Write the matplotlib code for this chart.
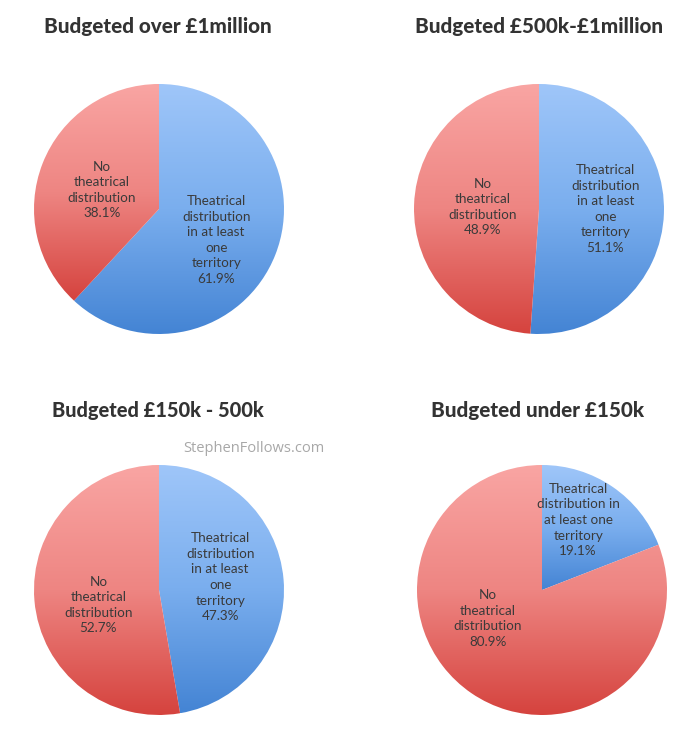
import numpy as np
import matplotlib
matplotlib.use("Agg")
import matplotlib.pyplot as plt
from matplotlib.colors import LinearSegmentedColormap

titles = ["Budgeted over £1million", "Budgeted £500k-£1million",
          "Budgeted £150k - 500k", "Budgeted under £150k"]
theatrical_pct = [61.9, 51.1, 47.3, 19.1]
none_pct = [38.1, 48.9, 52.7, 80.9]
theatrical_labels = ["Theatrical\ndistribution\nin at least\none\nterritory",
                     "Theatrical\ndistribution\nin at least\none\nterritory",
                     "Theatrical\ndistribution\nin at least\none\nterritory",
                     "Theatrical\ndistribution in\nat least one\nterritory"]
none_label = "No\ntheatrical\ndistribution"
watermark = "StephenFollows.com"

W, H = 700, 743
fig = plt.figure(figsize=(W / 100, H / 100), dpi=100)
fig.patch.set_facecolor("white")

centers = [(159, 209), (539, 209), (159, 590), (542, 590)]
R = 125
title_y = [27, 27, 410, 410]
title_x = [158, 539, 158, 538]
title_w = [227, 248, 213, 213]
label_place = [[(0.52, -7), (0.48, 3)], [(0.53, 2), (0.45, 0)],
               [(0.50, 7), (0.50, 9)], [(0.63, 7), (0.49, -28)]]

blue_cmap = LinearSegmentedColormap.from_list("b", ["#4484d4", "#7aaeee", "#9fc6f9"])
red_cmap = LinearSegmentedColormap.from_list("r", ["#d5433e", "#ee8582", "#f9a5a3"])
grad = np.linspace(0, 1, 256).reshape(-1, 1)

for i in range(4):
    cx, cy = centers[i]
    ax = fig.add_axes([(cx - R) / W, 1 - (cy + R) / H, 2 * R / W, 2 * R / H])
    vals = [theatrical_pct[i], none_pct[i]]
    wedges, _ = ax.pie(vals, startangle=90, counterclock=False, radius=1,
                       colors=["none", "none"],
                       wedgeprops=dict(linewidth=0, edgecolor="none"))
    for w, cmap in zip(wedges, [blue_cmap, red_cmap]):
        ext = w.get_path().get_extents()
        im = ax.imshow(grad, cmap=cmap, origin="lower", aspect="auto",
                       extent=(ext.x0, ext.x1, ext.y0, ext.y1),
                       interpolation="bicubic", zorder=1)
        im.set_clip_path(w)
    ax.set_xlim(-1, 1)
    ax.set_ylim(-1, 1)
    ax.axis("off")
    texts = [f"{theatrical_labels[i]}\n{theatrical_pct[i]:.1f}%",
             f"{none_label}\n{none_pct[i]:.1f}%"]
    for w, t, (rd, nudge) in zip(wedges, texts, label_place[i]):
        mid = np.deg2rad((w.theta1 + w.theta2) / 2 + nudge)
        ax.text(rd * np.cos(mid), rd * np.sin(mid), t, ha="center", va="center",
                fontsize=9.7, family="Lato", color="#3a3a3a", linespacing=1.36,
                zorder=3)

renderer = fig.canvas.get_renderer()
for i in range(4):
    t = fig.text(title_x[i] / W, 1 - title_y[i] / H, titles[i], ha="center",
                 va="center", fontsize=16, fontweight="black",
                 family="Lato", color="#333333")
    wpx = t.get_window_extent(renderer).width
    t.set_fontsize(16 * title_w[i] / wpx)

fig.text(254 / W, 1 - 449 / H, watermark, ha="center", va="center",
         fontsize=10.5, family="Open Sans", color="#a8a8a8")

fig.savefig("out.png", dpi=100, facecolor="white")
